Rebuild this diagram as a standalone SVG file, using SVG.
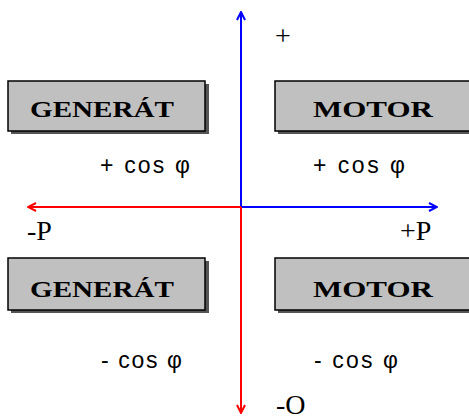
<svg xmlns="http://www.w3.org/2000/svg" width="469" height="419" viewBox="0 0 469 419">
<defs>
<style>
.box{fill:#c0c0c0;stroke:#000;stroke-width:1.5}
.sh{fill:#555}
.bt{font-family:"Liberation Serif",serif;font-weight:bold;font-size:23px;fill:#000}
.lb{font-family:"Liberation Sans",sans-serif;font-size:23px;fill:#000}
.ax{font-family:"Liberation Serif",serif;font-size:28px;fill:#000}
</style>
<marker id="ab" viewBox="0 0 10 10" refX="9" refY="5" markerWidth="5" markerHeight="5" orient="auto"><path d="M1,1 L9,5 L1,9" fill="none" stroke="#0000ff" stroke-width="2"/></marker>
<marker id="ar" viewBox="0 0 10 10" refX="9" refY="5" markerWidth="5" markerHeight="5" orient="auto"><path d="M1,1 L9,5 L1,9" fill="none" stroke="#ff0000" stroke-width="2"/></marker>
</defs>
<rect width="469" height="419" fill="#fff"/>
<g id="connectors">
<line x1="241" y1="207" x2="241" y2="12" stroke="#0000ff" stroke-width="2" marker-end="url(#ab)"/>
<line x1="241" y1="207" x2="437" y2="207" stroke="#0000ff" stroke-width="2" marker-end="url(#ab)"/>
<line x1="241" y1="207" x2="28" y2="207" stroke="#ff0000" stroke-width="2" marker-end="url(#ar)"/>
<line x1="241" y1="207" x2="241" y2="413" stroke="#ff0000" stroke-width="2" marker-end="url(#ar)"/>
</g>
<g id="gen1">
<rect class="sh" x="11" y="84" width="198" height="50"/>
<rect class="box" x="8" y="81" width="197" height="50"/>
<text class="bt" x="30" y="117" textLength="144" lengthAdjust="spacingAndGlyphs">GENERÁT</text>
</g>
<g id="motor1">
<rect class="sh" x="278" y="84" width="194" height="50"/>
<rect class="box" x="275" y="81" width="198" height="50"/>
<text class="bt" x="313" y="117" textLength="120" lengthAdjust="spacingAndGlyphs">MOTOR</text>
</g>
<g id="gen2">
<rect class="sh" x="11" y="261" width="198" height="52"/>
<rect class="box" x="8" y="258" width="197" height="52"/>
<text class="bt" x="30" y="297" textLength="144" lengthAdjust="spacingAndGlyphs">GENERÁT</text>
</g>
<g id="motor2">
<rect class="sh" x="278" y="261" width="194" height="52"/>
<rect class="box" x="275" y="258" width="198" height="52"/>
<text class="bt" x="313" y="297" textLength="120" lengthAdjust="spacingAndGlyphs">MOTOR</text>
</g>
<g id="labels">
<text class="ax" x="275" y="45" font-size="26">+</text>
<text class="lb" x="100" y="173" textLength="90" lengthAdjust="spacing">+ cos φ</text>
<text class="lb" x="313" y="173" textLength="92" lengthAdjust="spacing">+ cos φ</text>
<text class="lb" x="101" y="368" textLength="81" lengthAdjust="spacing">- cos φ</text>
<text class="lb" x="314" y="368" textLength="84" lengthAdjust="spacing">- cos φ</text>
<text class="ax" x="27" y="240">-P</text>
<text class="ax" x="400" y="240">+P</text>
<text class="ax" x="276" y="414" font-size="24">-O</text>
</g>
</svg>
